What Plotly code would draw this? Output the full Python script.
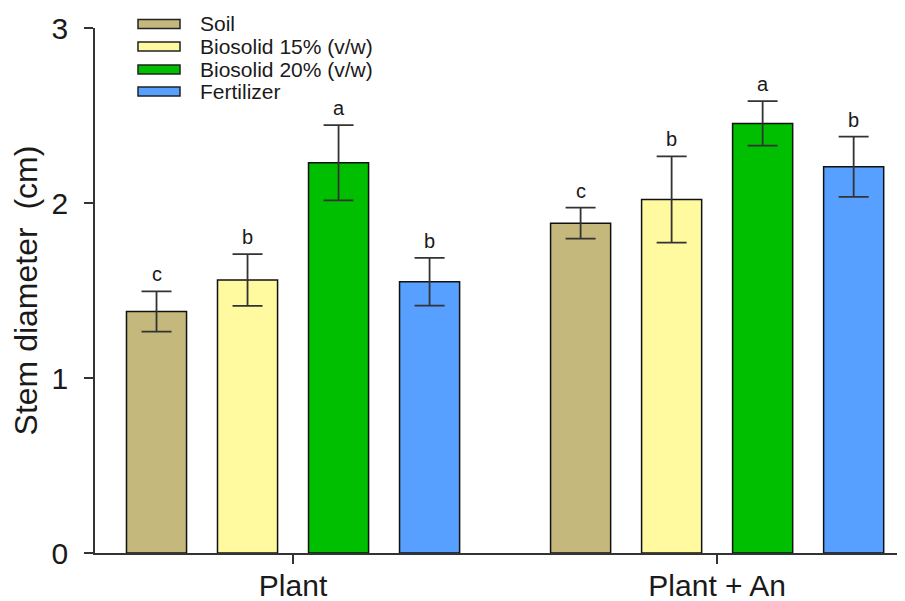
import plotly.graph_objects as go

categories = ["Plant", "Plant + An"]
series_names = ["Soil", "Biosolid 15% (v/w)", "Biosolid 20% (v/w)", "Fertilizer"]
soil = [1.38, 1.885]
soil_err = [0.115, 0.088]
bio15 = [1.56, 2.02]
bio15_err = [0.148, 0.246]
bio20 = [2.23, 2.455]
bio20_err = [0.215, 0.127]
fert = [1.55, 2.207]
fert_err = [0.136, 0.172]
letters_soil = ["c", "c"]
letters_bio15 = ["b", "b"]
letters_bio20 = ["a", "a"]
letters_fert = ["b", "b"]
y_ticks = [0, 1, 2, 3]

colors = ["#C4B87D", "#FFFA9F", "#00BE00", "#57A0FF"]
values = [soil, bio15, bio20, fert]
errors = [soil_err, bio15_err, bio20_err, fert_err]
letters = [letters_soil, letters_bio15, letters_bio20, letters_fert]

FONT = "Arial, Liberation Sans, sans-serif"
TXT = "#1a1a1a"
PAGE_OFF = 8  # default body margin of the html page
W, H = 905 - PAGE_OFF, 601 - PAGE_OFF
ML, MR, MT, MB = 95 - PAGE_OFF, 0, 28 - PAGE_OFF, 48
bargap = 0.1415
bargroupgap = 0.34

fig = go.Figure()
for name, v, e, c in zip(series_names, values, errors, colors):
    fig.add_trace(go.Bar(
        x=categories, y=v, name=name,
        marker=dict(color=c, line=dict(color="#111111", width=1.5)),
        error_y=dict(type="data", array=e, visible=True, color="#333333",
                     thickness=1.8, width=15),
        showlegend=False,
    ))

# significance letters
n = len(series_names)
slot = (1 - bargap) / n
annotations = []
for i in range(n):
    off = -(1 - bargap) / 2 + (i + 0.5) * slot
    for j in range(len(categories)):
        annotations.append(dict(
            x=j + off, y=values[i][j] + errors[i][j], xref="x", yref="y",
            text=letters[i][j], showarrow=False, yanchor="bottom",
            yshift=4, font=dict(family=FONT, size=20, color=TXT),
        ))

# manual legend (wide rectangular swatches); positions in screen pixels
pw = W - ML - MR
ph = H - MT - MB
def px2x(p):
    return (p - PAGE_OFF - ML) / pw
def py2y(p):
    return (H - MB - (p - PAGE_OFF)) / ph

row_y = [24, 46.5, 69.5, 91.5]
shapes = []
for name, c, ry in zip(series_names, colors, row_y):
    shapes.append(dict(type="rect", xref="paper", yref="paper",
                       x0=px2x(138), x1=px2x(180), y0=py2y(ry + 4.5), y1=py2y(ry - 4.5),
                       fillcolor=c, line=dict(color="#222222", width=1.5)))
    annotations.append(dict(x=px2x(198), y=py2y(ry), xref="paper", yref="paper",
                            text=name, showarrow=False, xanchor="left", yanchor="middle",
                            font=dict(family=FONT, size=21, color=TXT)))

fig.update_layout(
    width=W, height=H,
    margin=dict(l=ML, r=MR, t=MT, b=MB, autoexpand=False),
    paper_bgcolor="white", plot_bgcolor="white",
    barmode="group", bargap=bargap, bargroupgap=bargroupgap,
    font=dict(family=FONT, color=TXT),
    annotations=annotations, shapes=shapes,
    xaxis=dict(
        range=[-0.467, 1.443], showline=True, linecolor="#333333", linewidth=1.5,
        ticks="outside", ticklen=9, tickcolor="#333333", tickwidth=1.5,
        tickfont=dict(family=FONT, size=30, color=TXT),
        ticklabelstandoff=-4, automargin=False,
        showgrid=False, zeroline=False,
    ),
    yaxis=dict(
        range=[0, 3], tickvals=y_ticks, showline=True, linecolor="#333333", linewidth=1.5,
        ticks="outside", ticklen=9, tickcolor="#333333", tickwidth=1.5,
        tickfont=dict(family=FONT, size=30, color=TXT),
        ticklabelstandoff=10, automargin=False,
        title=dict(text="Stem diameter  (cm)", font=dict(family=FONT, size=32, color=TXT),
                   standoff=8),
        showgrid=False, zeroline=False,
    ),
)

fig.write_html("out.html")
